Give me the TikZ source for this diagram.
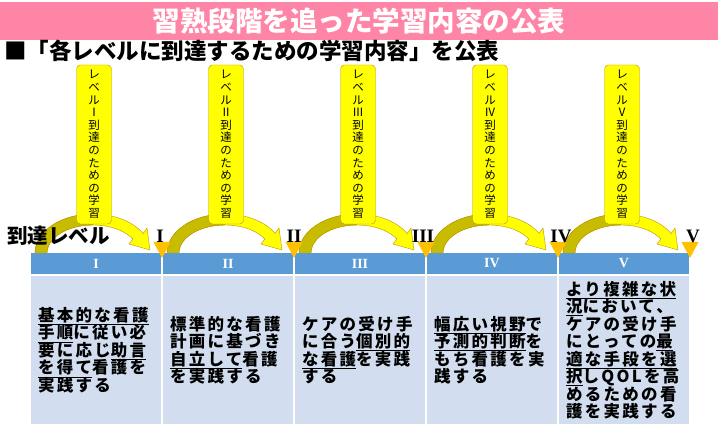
\documentclass[tikz,border=0pt]{standalone}
\usepackage{fontspec}
\setmainfont{Noto Sans CJK JP}
\newfontfamily\bodyfont{Noto Sans CJK JP}[LetterSpace=14]
\newfontfamily\romfont{Liberation Serif}
\usetikzlibrary{positioning}

\definecolor{barpink}{HTML}{FF85A7}
\definecolor{boxyellow}{HTML}{FFFF00}
\definecolor{boxgold}{HTML}{BF9000}
\definecolor{armolive}{HTML}{C8BC00}
\definecolor{headblue}{HTML}{5B9BD5}
\definecolor{bodyblue}{HTML}{D2DEEF}
\definecolor{markorange}{HTML}{FFC000}

\tikzset{
  titlebar/.style={fill=barpink, text=white, inner sep=0pt, minimum width=718pt,
    minimum height=38pt, font={\fontsize{27.5}{30}\selectfont\bfseries}},
  levelbox/.style={fill=boxyellow, draw=boxgold, rounded corners=4pt, inner sep=0pt,
    minimum width=35pt, minimum height=159pt, align=center,
    font={\fontsize{11.5}{12.6}\selectfont}},
  levelmark/.style={inner sep=0pt, font={\romfont\bfseries\fontsize{19}{22}\selectfont}},
  headcell/.style={fill=headblue, text=white, inner sep=0pt, outer sep=0pt,
    minimum width=130pt, minimum height=21pt, font={\romfont\bfseries\fontsize{14}{16}\selectfont}},
  bodycell/.style={fill=bodyblue, inner xsep=7pt, inner ysep=0pt, outer sep=0pt,
    text width=116pt, minimum height=148pt, align=left,
    font={\bodyfont\bfseries\fontsize{16.5}{17.5}\selectfont\lineskiplimit=-6pt}}
}

\begin{document}
\begin{tikzpicture}[x=1pt, y=-1pt]

  \useasboundingbox (0,0) rectangle (720,427);

  \node [titlebar] (title) at (359,21) {習熟段階を追った学習内容の公表};

  \node [anchor=west, inner sep=0pt, font={\fontsize{22.5}{24}\selectfont\bfseries}] (sub)
    at (4,51) {■「各レベルに到達するための学習内容」を公表};

  % curved arrows with the level boxes on top
  \foreach \c/\num [count=\i] in {30/Ⅰ,162/Ⅱ,294/Ⅲ,426/Ⅳ,558/Ⅴ} {
    \pgfmathsetmacro\cx{\c+63}
    \filldraw [fill=boxyellow, draw=boxgold] (\cx-58,253)
      arc [start angle=180, end angle=330, x radius=58, y radius=39]
      -- (\cx+54,228) -- (\cx+57,250) -- (\cx+36,244) -- (\cx+39.8,239)
      arc [start angle=330, end angle=180, x radius=46, y radius=28] -- cycle;
    \filldraw [fill=armolive, draw=boxgold] (\cx-58,253)
      arc [start angle=180, end angle=270, x radius=58, y radius=39]
      -- (\cx,225)
      arc [start angle=270, end angle=180, x radius=46, y radius=28] -- cycle;
    \node [levelbox] (lv\i) at (\cx+1,144.5)
      {レ\\ベ\\ル\\\num\\到\\達\\の\\た\\め\\の\\学\\習};
  }

  \node [anchor=west, inner sep=0pt, font={\fontsize{20.5}{22}\selectfont\bfseries}] (goal)
    at (7,236) {到達レベル};

  % table head
  \foreach \c/\r [count=\i] in {30/I,162/II,294/III,426/IV,558/V}
    \node [headcell] (h\i) at (\c+66,263.5) {\r};

  \node [bodycell, below=2pt of h1] (b1)
    {\underline{基本的な看護}\\\underline{手順}に従い必\\要に応じ\underline{助言}\\\underline{を得て}看護を\\実践する};
  \node [bodycell, below=2pt of h2] (b2)
    {標準的な看護\\計画に基づき\\\underline{自立して}看護\\を実践する};
  \node [bodycell, below=2pt of h3] (b3)
    {ケアの受け手\\に合う\underline{個別的}\\\underline{な看護}を実践\\する};
  \node [bodycell, below=2pt of h4] (b4)
    {\underline{幅広い視野}で\\\underline{予測的判断}を\\もち看護を実\\践する};
  \node [bodycell, below=2pt of h5] (b5)
    {\underline{より複雑な状}\\\underline{況}において、\\ケアの受け手\\にとっての\underline{最}\\\underline{適な手段を選}\\\underline{択}しQOLを高\\めるための看\\護を実践する};

  % level marks
  \foreach \c in {162,294,426,558,690}
    \fill [markorange] (\c-8.5,242) -- (\c+8.5,242) -- (\c,258) -- cycle;

  \foreach \x/\r [count=\i] in {160/I,294/II,423/III,561/IV,693/V}
    \node [levelmark] (lab\i) at (\x,236) {\r};

\end{tikzpicture}
\end{document}
